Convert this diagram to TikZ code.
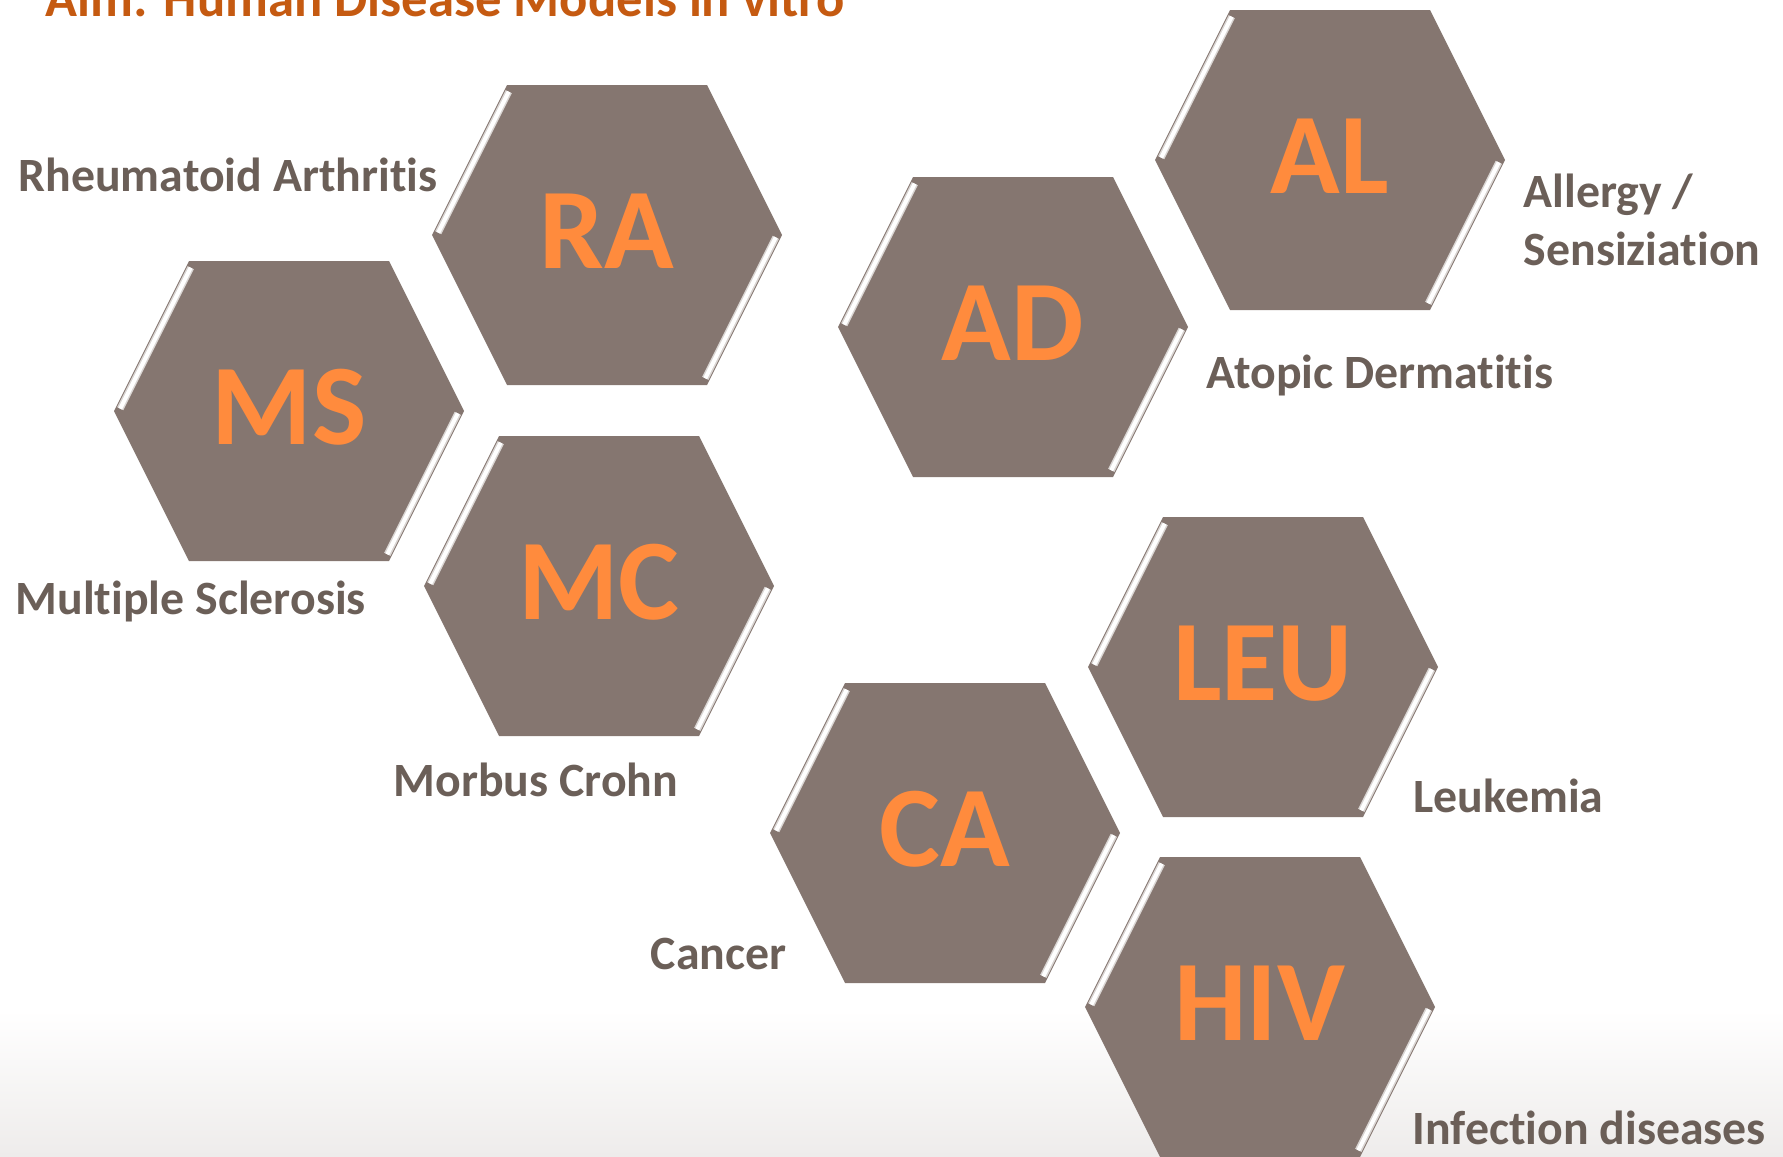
\documentclass[tikz,border=0pt]{standalone}
\usepackage{fontspec}
\setmainfont{Carlito}[Ligatures=CommonOff]
\definecolor{hexgrey}{HTML}{857670}
\definecolor{hexorange}{HTML}{FF8B3D}
\definecolor{labelgrey}{HTML}{6B5F58}
\definecolor{titleorange}{HTML}{C55A11}
\definecolor{floorgrey}{HTML}{EEECEB}
\tikzset{
	hexletters/.style={font=\fontsize{32.7}{36}\bfseries\selectfont, text=hexorange, inner sep=0pt, anchor=base},
	disease/.style={font=\fontsize{13.6}{16.5}\bfseries\selectfont, text=labelgrey, inner sep=0pt, anchor=base west, align=left},
	bevel/.style={line width=0.7mm, hexgrey!30!white},
	bevelhi/.style={line width=0.4mm, white},
}
\begin{document}
\begin{tikzpicture}[x=0.1mm, y=-0.1mm]
	\useasboundingbox (0,0) rectangle (1783,1156);
	\clip (0,0) rectangle (1783,1156);
	% soft floor at the bottom
	\shade[top color=white, bottom color=floorgrey] (0,1010) rectangle (1783,1156);
	\node[font=\fontsize{15}{18}\bfseries\selectfont, text=titleorange, inner sep=0pt, anchor=base west] (aim) at (45,16) {Aim: Human Disease Models in vitro};
	% the hexagon cells
	\foreach \n/\cx/\cy in {RA/607/235, MS/289/411, MC/599/586, AD/1013/327, AL/1330/160, LEU/1263/667, CA/945/833, HIV/1260/1007}{
		\fill[hexgrey, shift={(\cx,\cy)}] (-175,0)--(-100,-150)--(100,-150)--(175,0)--(100,150)--(-100,150)--cycle;
		\draw[bevel, shift={(\cx,\cy)}] (-168.8,-2.3)--(-98.3,-143.3) (168.8,2.3)--(98.3,143.3);
		\draw[bevelhi, shift={(\cx,\cy)}] (-168.8,-2.3)--(-98.3,-143.3) (168.8,2.3)--(98.3,143.3);
		\node[hexletters] (\n) at (\cx,\cy+33) {\n};
	}
	\node[disease] (ra-text) at (18,191) {Rheumatoid Arthritis};
	\node[disease] (ms-text) at (15,614) {Multiple Sclerosis};
	\node[disease] (mc-text) at (393,796) {Morbus Crohn};
	\node[disease] (ad-text) at (1206,388) {Atopic Dermatitis};
	\node[disease] (al-text) at (1523,265) {Allergy /\\Sensiziation};
	\node[disease] (leu-text) at (1413,812) {Leukemia};
	\node[disease] (ca-text) at (650,969) {Cancer};
	\node[disease] (hiv-text) at (1412,1144) {Infection diseases};
\end{tikzpicture}
\end{document}
